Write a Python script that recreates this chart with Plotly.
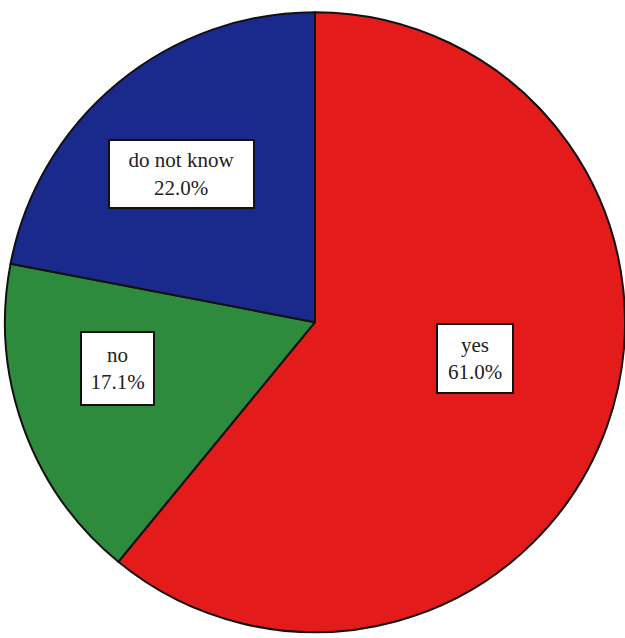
import plotly.graph_objects as go

labels = ["yes", "no", "do not know"]
values = [61.0, 17.1, 22.0]
colors = ["#E41B1B", "#2E8A3C", "#1A2A8C"]

# label box centres (paper coords) and sizes (px)
label_pos = [(0.760, 0.438), (0.188, 0.422), (0.290, 0.727)]
box_size = [(74, 67), (71, 71), (143, 66)]

fig = go.Figure()
fig.add_trace(go.Pie(
    labels=labels,
    values=values,
    sort=False,
    direction="clockwise",
    rotation=0,
    textinfo="none",
    hoverinfo="label+percent",
    marker=dict(colors=colors, line=dict(color="#111111", width=2)),
    domain=dict(x=[0.008, 1.0], y=[0.0, 0.99]),
    showlegend=False,
))

annotations = []
for lab, val, (x, y), (w, h) in zip(labels, values, label_pos, box_size):
    annotations.append(dict(
        x=x, y=y, xref="paper", yref="paper",
        xanchor="center", yanchor="middle",
        text=f"{lab}<br>{val:.1f}%",
        showarrow=False,
        font=dict(family="Liberation Serif", size=21, color="#222222"),
        bgcolor="white", bordercolor="#111111", borderwidth=2, borderpad=0,
        width=w, height=h, align="center", valign="middle",
    ))

fig.update_layout(
    width=625, height=638,
    margin=dict(l=0, r=0, t=0, b=0),
    paper_bgcolor="white", plot_bgcolor="white",
    annotations=annotations,
)

fig.write_html("out.html")
